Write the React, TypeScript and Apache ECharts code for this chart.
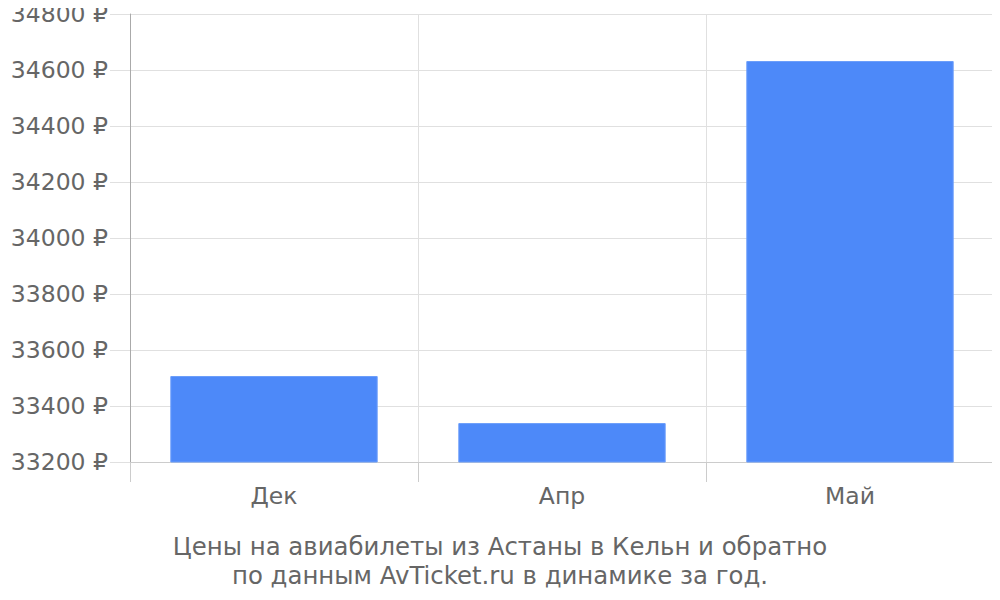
import React, { useEffect, useRef } from 'react';
import * as echarts from 'echarts';

const months = ['Дек', 'Апр', 'Май'];
const prices = [33507, 33339, 34632];

const titleLines = [
  'Цены на авиабилеты из Астаны в Кельн и обратно',
  'по данным AvTicket.ru в динамике за год.',
];

export default function App() {
  const chartRef = useRef<HTMLDivElement>(null);

  useEffect(() => {
    if (!chartRef.current) return;
    const chart = echarts.init(chartRef.current, null, { renderer: 'svg' });

    chart.setOption({
      animation: false,
      textStyle: { fontFamily: 'DejaVu Sans' },
      graphic: [
        {
          type: 'text',
          x: 500,
          y: 532,
          style: {
            text: titleLines.join('\n'),
            fill: '#666',
            font: '24.4px "DejaVu Sans"',
            lineHeight: 29,
            textAlign: 'center',
          },
        },
      ],
      grid: { left: 130, right: 6, top: 14, bottom: 138 },
      xAxis: {
        type: 'category',
        data: months,
        axisLine: { lineStyle: { color: '#ccc' } },
        axisTick: { show: true, length: 20, lineStyle: { color: '#ccc' } },
        axisLabel: { color: '#666', fontSize: 23.5, margin: 22 },
        splitLine: { show: true, lineStyle: { color: '#e0e0e0' } },
      },
      yAxis: {
        type: 'value',
        min: 33200,
        max: 34800,
        interval: 200,
        axisLine: { show: true, lineStyle: { color: '#aaa' } },
        axisTick: { show: true, length: 20, lineStyle: { color: '#e0e0e0' } },
        axisLabel: {
          color: '#666',
          fontSize: 23.5,
          margin: 22,
          formatter: (v: number) => `${v} ₽`,
        },
        splitLine: { lineStyle: { color: '#e0e0e0' } },
      },
      series: [
        {
          type: 'bar',
          data: prices,
          barCategoryGap: '28%',
          itemStyle: { color: '#4d89f9', borderColor: '#6b9dfa', borderWidth: 1 },
        },
      ],
    });

    return () => chart.dispose();
  }, []);

  return <div ref={chartRef} style={{ width: 1000, height: 600, margin: -8 }} />;
}
